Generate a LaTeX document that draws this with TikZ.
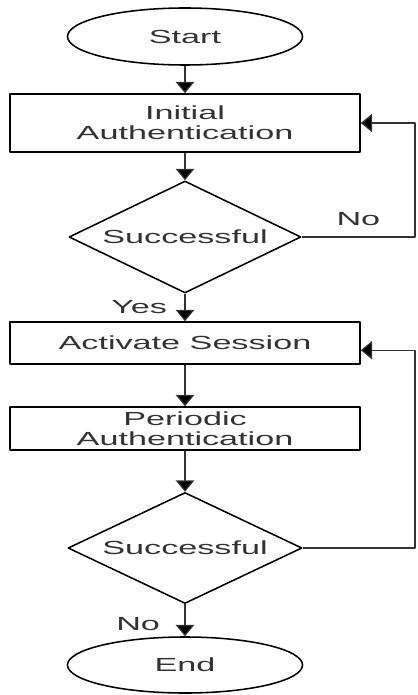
\documentclass[tikz,border=0pt]{standalone}
\usepackage{fontspec}
\setmainfont{Liberation Sans}[FakeStretch=1.8]
\usetikzlibrary{shapes.geometric,arrows.meta}
\tikzset{
  term/.style={ellipse,draw,line width=1.1pt,minimum width=5.875cm,minimum height=1.425cm,inner sep=0pt},
  proc/.style={rectangle,draw,line width=1.1pt,minimum width=8.75cm,inner sep=0pt,align=center},
  decide/.style={diamond,draw,line width=1.1pt,aspect=2.07,minimum width=5.8cm,minimum height=2.8cm,inner sep=0pt},
  link/.style={->,line width=0.9pt,draw=black!80},
}
\begin{document}
\begin{tikzpicture}[x=0.025cm,y=-0.025cm,font=\fontsize{13.5}{14}\selectfont,text=black!80,line join=round, >={Triangle[length=8pt,width=13pt,fill=black]}]
\useasboundingbox (0,0) rectangle (417,695);
\node[term] (start) at (185,36.5) {Start};
\node[proc,minimum height=1.45cm] (init) at (185,123) {Initial\\Authentication};
\node[decide] (dec1) at (185,237) {Successful};
\node[proc,minimum height=1.05cm] (act) at (185,343) {Activate Session};
\node[proc,minimum height=1.075cm] (per) at (185,428.5) {Periodic\\Authentication};
\node[decide,minimum height=2.775cm,minimum width=5.85cm] (dec2) at (185,548) {Successful};
\node[term,minimum height=1.4cm] (end) at (185,665) {End};
\coordinate (rail) at (415,0);
% main flow
\draw[link] (start) -- (init);
\draw[link] (init) -- (dec1);
\draw[link] (dec1) -- node[left=9pt]{Yes} (act);
\draw[link] (act) -- (per);
\draw[link] (per) -- (dec2);
\draw[link] (dec2) -- node[left=14pt,yshift=-3pt]{No} (end);
% retry loops
\draw[link] (dec1.east) -- node[above=4pt]{No} (dec1.east -| rail) |- (init.east);
\draw[link] (dec2.east) -- (dec2.east -| rail) |- ([yshift=-0.18cm]act.east);
\end{tikzpicture}
\end{document}
